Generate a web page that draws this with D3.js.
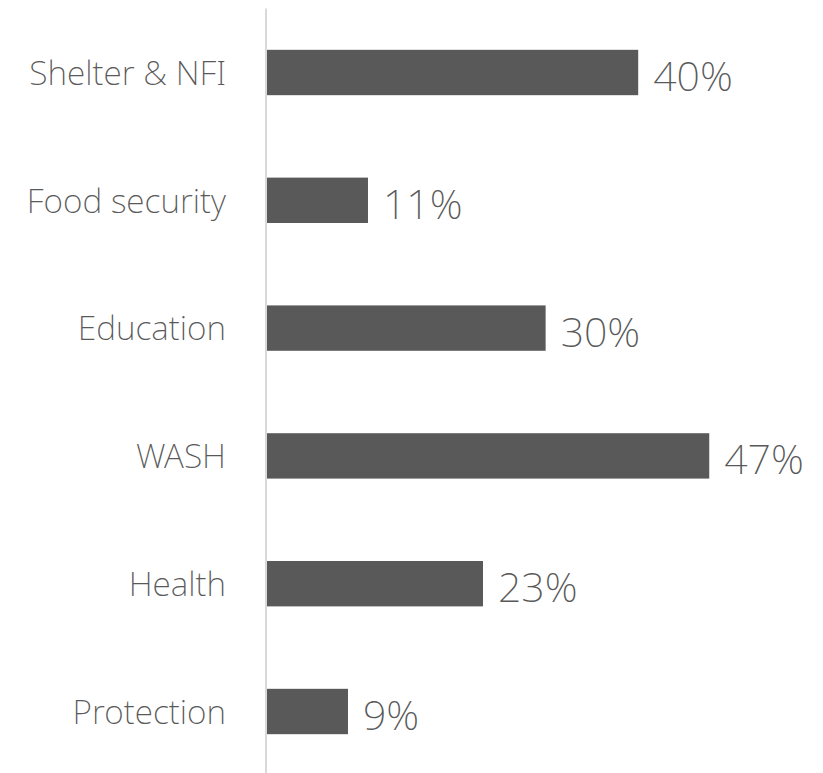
<!DOCTYPE html>
<html><head><meta charset="utf-8">
<script src="https://cdn.jsdelivr.net/npm/d3@7"></script>
<style>
html,body{margin:0;padding:0;background:#fff;}
svg{display:block;}
text{font-family:"Noto Sans","Open Sans",sans-serif;font-weight:250;fill:#595959;}
</style></head>
<body>
<svg id="chart" width="823" height="773"></svg>
<script>
const categories = ["Shelter & NFI","Food security","Education","WASH","Health","Protection"];
const values = [39.7, 10.8, 29.8, 47.3, 23.1, 8.66];
const labels = ["40%","11%","30%","47%","23%","9%"];

const svg = d3.select("#chart");
const x0 = 267;
const x = d3.scaleLinear().domain([0, 10]).range([x0, x0 + 93.5]);
const y = d3.scaleBand().domain(categories).range([8.6, 775.4]).paddingInner(0.645).paddingOuter(0.3225);

svg.append("line").attr("x1", 266).attr("x2", 266).attr("y1", y.range()[0]).attr("y2", y.range()[1])
  .attr("stroke", "#d9d9d9").attr("stroke-width", 2);

svg.selectAll("rect.bar").data(categories).join("rect").attr("class","bar")
  .attr("x", x(0)).attr("y", d => y(d)).attr("width", (d,i) => x(values[i]) - x(0))
  .attr("height", y.bandwidth()).attr("fill", "#595959");

svg.selectAll("text.cat").data(categories).join("text").attr("class","cat")
  .attr("x", 226).attr("y", d => y(d) + y.bandwidth()/2).attr("dy", "0.37em")
  .attr("text-anchor","end").style("font-size","33.5px").text(d => d);

svg.selectAll("text.val").data(categories).join("text").attr("class","val")
  .attr("x", (d,i) => x(values[i]) + 15).attr("y", d => y(d) + y.bandwidth()/2).attr("dy", "0.45em")
  .style("font-size","41px").text((d,i) => labels[i]);
</script>
</body></html>
